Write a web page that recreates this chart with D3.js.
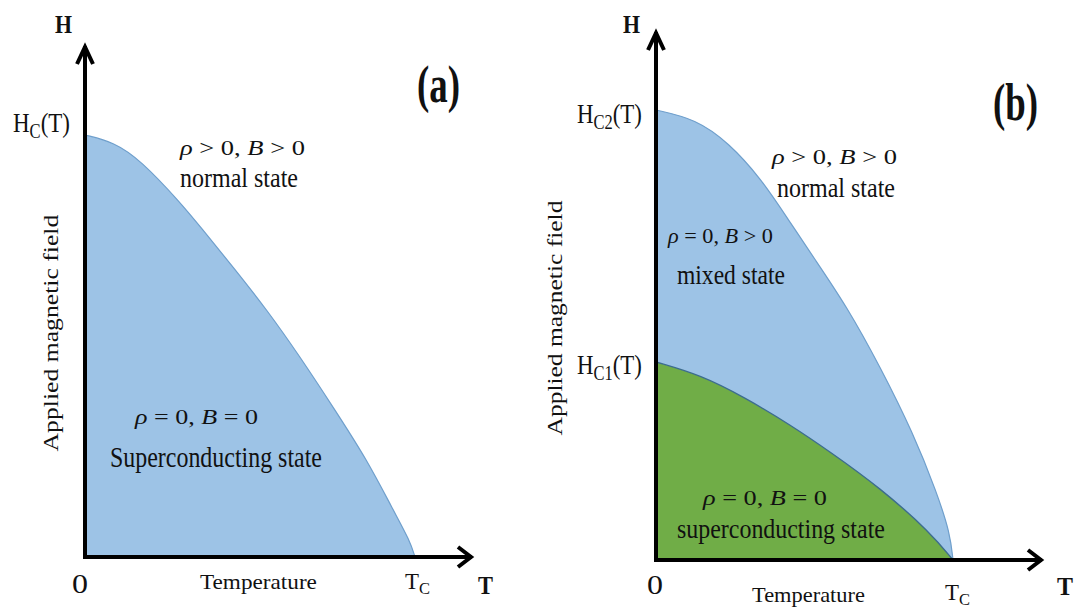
<!DOCTYPE html>
<html>
<head>
<meta charset="utf-8">
<script src="https://cdn.jsdelivr.net/npm/d3@7"></script>
<style>
  html, body { margin: 0; padding: 0; background: #fff; }
  svg { display: block; }
  svg text { font-family: "Liberation Serif", "Times New Roman", Times, serif; }
</style>
</head>
<body>
<svg id="chart" width="1078" height="616"></svg>
<script>
// Critical-field curves, T as a fraction of Tc and H as a fraction of the top critical field.
// (a) type-I superconductor: Hc(T)
const tempA = [0, 0.088, 0.169, 0.290, 0.350, 0.449, 0.552, 0.652, 0.752, 0.855, 0.934, 0.985, 1];
const hcA   = [1, 0.983, 0.940, 0.839, 0.782, 0.687, 0.585, 0.474, 0.355, 0.230, 0.111, 0.038, 0];

// (b) type-II superconductor: upper critical field Hc2(T)
const tempB2 = [0, 0.134, 0.245, 0.352, 0.446, 0.530, 0.644, 0.755, 0.866, 0.946, 0.990, 1];
const hc2B   = [1, 0.980, 0.927, 0.849, 0.756, 0.673, 0.562, 0.429, 0.282, 0.149, 0.060, 0];

// (b) lower critical field Hc1(T), same field units as Hc2
const tempB1 = [0, 0.151, 0.302, 0.453, 0.587, 0.755, 0.923, 1];
const hc1B   = [0.44, 0.411, 0.360, 0.300, 0.240, 0.160, 0.062, 0];

const axisTitleX = "Temperature";
const axisTitleY = "Applied magnetic field";
const panelTags  = ["(a)", "(b)"];

const svg = d3.select("#chart");
svg.append("rect").attr("width", 1078).attr("height", 616).attr("fill", "#fff");

const BLUE = "#9dc3e6", BLUE_EDGE = "#6f9fcc";
const GREEN = "#70ad47", GREEN_EDGE = "#3d6d8e";

// Text helper: builds runs (italic / subscript), then squeezes it horizontally to a given width.
function label(parent, o) {
  const g = parent.append("g")
    .attr("transform", `translate(${o.x},${o.y})` + (o.rot ? ` rotate(${o.rot})` : ""));
  const t = g.append("text")
    .attr("font-size", o.size)
    .attr("font-weight", o.bold ? "bold" : "normal")
    .attr("fill", o.color || "#111");
  o.parts.forEach(p => {
    const ts = t.append("tspan").text(p.s);
    if (p.it) ts.attr("font-style", "italic");
    if (p.sub) ts.attr("font-size", o.size * 0.72).attr("dy", o.size * 0.22);
    if (p.up) ts.attr("dy", -o.size * 0.22);
  });
  const len = t.node().getComputedTextLength();
  const sx = o.w / len;
  if (o.anchor === "middle") t.attr("x", -len / 2);
  t.attr("transform", `scale(${sx},1)`);
  return g;
}

function arrow(parent, pts) {
  parent.append("path")
    .attr("d", d3.line()(pts))
    .attr("fill", "none").attr("stroke", "#000")
    .attr("stroke-width", 4).attr("stroke-linejoin", "miter").attr("stroke-linecap", "butt");
}

function drawPanel(p) {
  const g = svg.append("g");
  const x = d3.scaleLinear().domain([0, 1]).range([p.x0, p.xTc]);
  const y = d3.scaleLinear().domain([0, 1]).range([p.y0, p.yTop]);

  p.regions.forEach(r => {
    const pts = r.t.map((t, i) => ({ t, h: r.h[i] }));
    const curve = d3.curveBasis;
    const area = d3.area().x(d => x(d.t)).y0(y(0)).y1(d => y(d.h)).curve(curve);
    const line = d3.line().x(d => x(d.t)).y(d => y(d.h)).curve(curve);
    g.append("path").attr("d", area(pts)).attr("fill", r.fill);
    g.append("path").attr("d", line(pts)).attr("fill", "none")
      .attr("stroke", r.edge).attr("stroke-width", r.edgeW);
  });

  // H axis with arrowhead
  arrow(g, [[x(0), y(0) + 2], [x(0), p.yTip]]);
  arrow(g, [[x(0) - 8, p.yTip + 18], [x(0), p.yTip + 1], [x(0) + 8, p.yTip + 18]]);
  // T axis with arrowhead
  arrow(g, [[x(0) - 2, y(0)], [p.xTip, y(0)]]);
  arrow(g, [[p.xTip - 14, y(0) - 10], [p.xTip - 1, y(0)], [p.xTip - 14, y(0) + 10]]);

  p.labels.forEach(l => label(g, l));
}

const rho = (op, rhs, op2, rhs2) => [
  { s: "ρ", it: true }, { s: ` ${op} ${rhs},  ` }, { s: "B", it: true }, { s: ` ${op2} ${rhs2}` }
];

// Panel (a)
drawPanel({
  x0: 85, xTc: 415, y0: 557, yTop: 135, yTip: 46, xTip: 472,
  regions: [{ t: tempA, h: hcA, fill: BLUE, edge: BLUE_EDGE, edgeW: 1.2 }],
  labels: [
    { x: 55, y: 33, size: 26, bold: true, w: 17, parts: [{ s: "H" }] },
    { x: 417, y: 102, size: 52, bold: true, w: 43, parts: [{ s: panelTags[0] }] },
    { x: 13, y: 132, size: 28, w: 57, parts: [{ s: "H" }, { s: "C", sub: true }, { s: "(T)", up: true }] },
    { x: 58, y: 333, size: 22, w: 237, rot: -90, anchor: "middle", parts: [{ s: axisTitleY }] },
    { x: 180, y: 155, size: 22, w: 125, parts: rho(">", "0", ">", "0") },
    { x: 180, y: 187, size: 28, w: 118, parts: [{ s: "normal state" }] },
    { x: 135, y: 424, size: 22, w: 123, parts: rho("=", "0", "=", "0") },
    { x: 110, y: 467, size: 30, w: 212, parts: [{ s: "Superconducting state" }] },
    { x: 72, y: 593, size: 28, w: 16, parts: [{ s: "0" }] },
    { x: 200, y: 589, size: 21, w: 117, parts: [{ s: axisTitleX }] },
    { x: 405, y: 589, size: 24, w: 25, parts: [{ s: "T" }, { s: "C", sub: true }] },
    { x: 478, y: 594, size: 26, bold: true, w: 15, parts: [{ s: "T" }] }
  ]
});

// Panel (b)
drawPanel({
  x0: 656, xTc: 953, y0: 560, yTop: 110, yTip: 32, xTip: 1042,
  regions: [
    { t: tempB2, h: hc2B, fill: BLUE, edge: BLUE_EDGE, edgeW: 1.2 },
    { t: tempB1, h: hc1B, fill: GREEN, edge: GREEN_EDGE, edgeW: 1.4 }
  ],
  labels: [
    { x: 623, y: 33, size: 26, bold: true, w: 17, parts: [{ s: "H" }] },
    { x: 993, y: 120, size: 52, bold: true, w: 45, parts: [{ s: panelTags[1] }] },
    { x: 577, y: 123, size: 28, w: 65, parts: [{ s: "H" }, { s: "C2", sub: true }, { s: "(T)", up: true }] },
    { x: 577, y: 374, size: 28, w: 65, parts: [{ s: "H" }, { s: "C1", sub: true }, { s: "(T)", up: true }] },
    { x: 562, y: 318, size: 22, w: 235, rot: -90, anchor: "middle", parts: [{ s: axisTitleY }] },
    { x: 772, y: 164, size: 22, w: 125, parts: rho(">", "0", ">", "0") },
    { x: 777, y: 197, size: 28, w: 118, parts: [{ s: "normal state" }] },
    { x: 668, y: 243, size: 20, w: 105, parts: rho("=", "0", ">", "0") },
    { x: 677, y: 284, size: 27, w: 108, parts: [{ s: "mixed state" }] },
    { x: 703, y: 505, size: 22, w: 124, parts: rho("=", "0", "=", "0") },
    { x: 677, y: 538, size: 28, w: 208, parts: [{ s: "superconducting state" }] },
    { x: 647, y: 594, size: 28, w: 16, parts: [{ s: "0" }] },
    { x: 752, y: 602, size: 21, w: 113, parts: [{ s: axisTitleX }] },
    { x: 945, y: 600, size: 24, w: 25, parts: [{ s: "T" }, { s: "C", sub: true }] },
    { x: 1057, y: 595, size: 26, bold: true, w: 16, parts: [{ s: "T" }] }
  ]
});
</script>
</body>
</html>
